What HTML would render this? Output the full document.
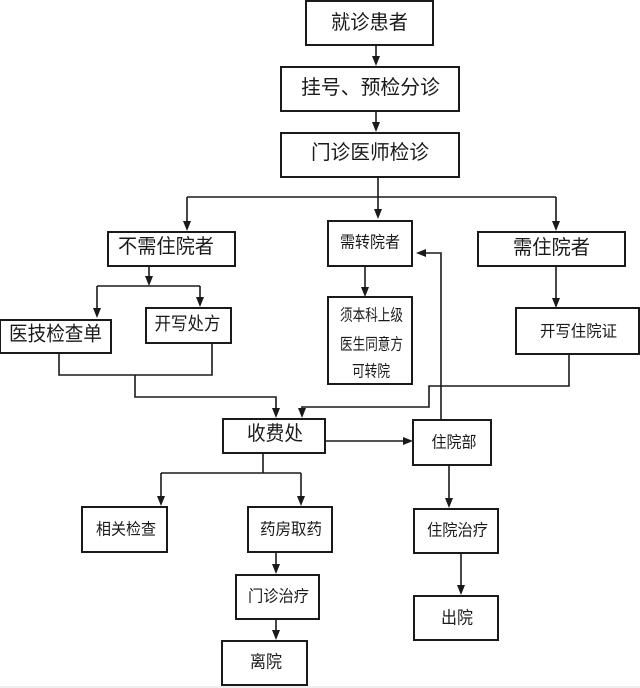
<!DOCTYPE html>
<html><head><meta charset="utf-8"><style>
html,body{margin:0;padding:0;background:#fff;width:640px;height:688px;overflow:hidden}
svg{display:block}
text{font-family:"Liberation Sans","Noto Sans CJK SC",sans-serif;fill:#1a1a1a;dominant-baseline:central;text-anchor:middle}
</style></head><body>
<svg width="640" height="688" viewBox="0 0 640 688" xmlns="http://www.w3.org/2000/svg">
<rect x="0" y="0" width="640" height="688" fill="#fff"/>
<rect x="0" y="686" width="640" height="2" fill="#eeeeee"/>
<g fill="#fff" stroke="#1a1a1a" stroke-width="2">
<rect x="306" y="1" width="127" height="44"/>
<rect x="281" y="67" width="178" height="44"/>
<rect x="281" y="133" width="178" height="44"/>
<rect x="108" y="232" width="127" height="34"/>
<rect x="328" y="221" width="84" height="45"/>
<rect x="478" y="232" width="147" height="34"/>
<rect x="0" y="320" width="111" height="33"/>
<rect x="146" y="308" width="85" height="35"/>
<rect x="328" y="297" width="84" height="87"/>
<rect x="516" y="308" width="123" height="46"/>
<rect x="223" y="419" width="102" height="34"/>
<rect x="413" y="420" width="78" height="45"/>
<rect x="82" y="507" width="85" height="45"/>
<rect x="248" y="507" width="84" height="45"/>
<rect x="236" y="575" width="83" height="44"/>
<rect x="222" y="641" width="85" height="44"/>
<rect x="414" y="509" width="84" height="44"/>
<rect x="414" y="596" width="84" height="44"/>
</g>
<g fill="none" stroke="#1a1a1a" stroke-width="1.6">
<path d="M376 45V57"/>
<path d="M376 111V123"/>
<path d="M378 177V197M187 197H556M187 197V222M378 197V210M556 197V222"/>
<path d="M149 266V277M97 286H200M97 286V308M200 286V297"/>
<path d="M59 353V375H212V343M135 375V397H276V409"/>
<path d="M365 266V288"/>
<path d="M556 266V299"/>
<path d="M569 354V386H429V407H302V409"/>
<path d="M325 441H404"/>
<path d="M441 420V253H425"/>
<path d="M263 453V473M161 473H301M161 473V497M301 473V497"/>
<path d="M276 552V565"/>
<path d="M276 619V631"/>
<path d="M449 465V499"/>
<path d="M461 553V586"/>
</g>
<g fill="#1a1a1a">
<polygon points="372,56 380,56 376,66"/>
<polygon points="372,122 380,122 376,132"/>
<polygon points="183,221 191,221 187,231"/>
<polygon points="374,209 382,209 378,219"/>
<polygon points="552,221 560,221 556,231"/>
<polygon points="145,276 153,276 149,286"/>
<polygon points="93,308 101,308 97,318"/>
<polygon points="196,297 204,297 200,307"/>
<polygon points="272,408 280,408 276,418"/>
<polygon points="361,287 369,287 365,297"/>
<polygon points="552,298 560,298 556,308"/>
<polygon points="298,408 306,408 302,418"/>
<polygon points="403,437 403,445 413,441"/>
<polygon points="426,249 426,257 416,253"/>
<polygon points="157,496 165,496 161,506"/>
<polygon points="297,496 305,496 301,506"/>
<polygon points="272,564 280,564 276,574"/>
<polygon points="272,630 280,630 276,640"/>
<polygon points="445,498 453,498 449,508"/>
<polygon points="457,585 465,585 461,595"/>
</g>
<text x="369.5" y="23" font-size="20" textLength="77" lengthAdjust="spacingAndGlyphs">就诊患者</text>
<text x="370.5" y="88" font-size="20" textLength="139" lengthAdjust="spacingAndGlyphs">挂号、预检分诊</text>
<text x="370" y="153" font-size="20" textLength="118" lengthAdjust="spacingAndGlyphs">门诊医师检诊</text>
<text x="166" y="247" font-size="20" textLength="96" lengthAdjust="spacingAndGlyphs">不需住院者</text>
<text x="370" y="243" font-size="16" textLength="60" lengthAdjust="spacingAndGlyphs">需转院者</text>
<text x="551.5" y="248" font-size="20" textLength="77" lengthAdjust="spacingAndGlyphs">需住院者</text>
<text x="55.5" y="334.5" font-size="20" textLength="93" lengthAdjust="spacingAndGlyphs">医技检查单</text>
<text x="187.5" y="324" font-size="18" textLength="66" lengthAdjust="spacingAndGlyphs">开写处方</text>
<text x="371.5" y="316" font-size="16" textLength="63" lengthAdjust="spacingAndGlyphs">须本科上级</text>
<text x="371.5" y="345" font-size="16" textLength="63" lengthAdjust="spacingAndGlyphs">医生同意方</text>
<text x="371" y="372" font-size="16" textLength="38" lengthAdjust="spacingAndGlyphs">可转院</text>
<text x="578.5" y="332" font-size="16" textLength="77" lengthAdjust="spacingAndGlyphs">开写住院证</text>
<text x="275" y="434" font-size="20" textLength="56" lengthAdjust="spacingAndGlyphs">收费处</text>
<text x="454" y="443" font-size="16" textLength="45" lengthAdjust="spacingAndGlyphs">住院部</text>
<text x="126" y="530" font-size="16" textLength="60" lengthAdjust="spacingAndGlyphs">相关检查</text>
<text x="291" y="530" font-size="16" textLength="62" lengthAdjust="spacingAndGlyphs">药房取药</text>
<text x="278.5" y="597" font-size="16" textLength="61" lengthAdjust="spacingAndGlyphs">门诊治疗</text>
<text x="266" y="662" font-size="17" textLength="32" lengthAdjust="spacingAndGlyphs">离院</text>
<text x="457.5" y="531" font-size="16" textLength="61" lengthAdjust="spacingAndGlyphs">住院治疗</text>
<text x="457" y="618" font-size="17" textLength="32" lengthAdjust="spacingAndGlyphs">出院</text>
</svg>
</body></html>
